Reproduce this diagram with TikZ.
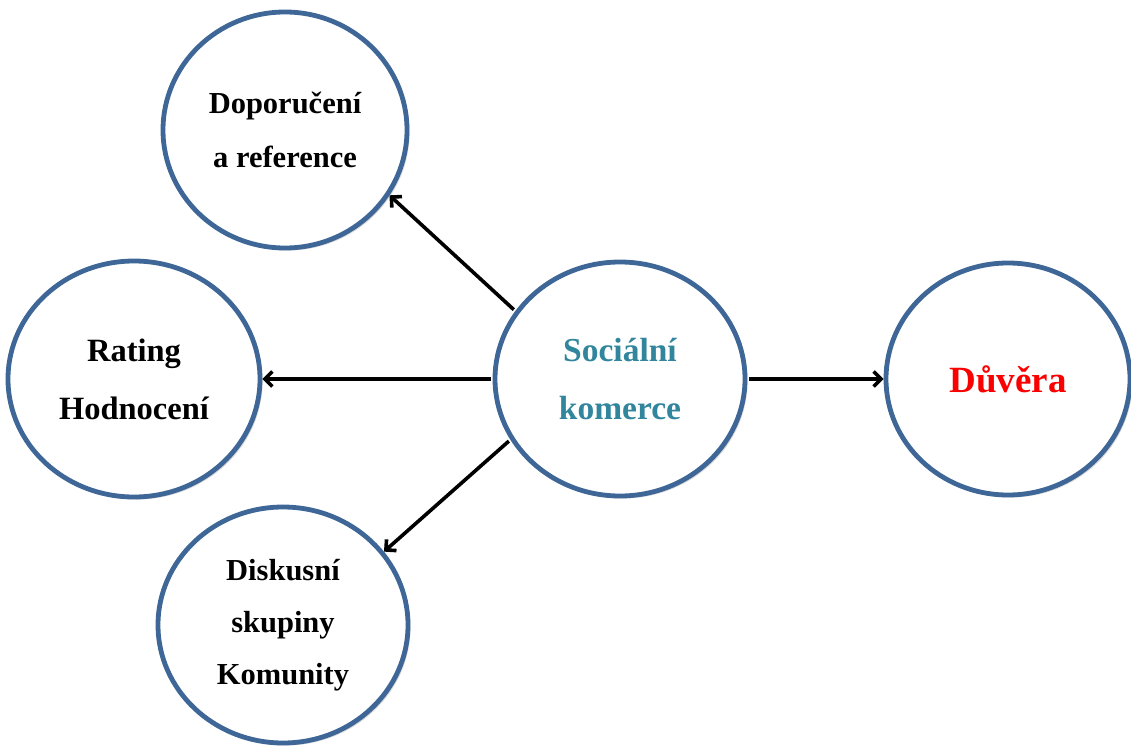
\documentclass[tikz,border=0pt]{standalone}
\usepackage{fontspec}
\setmainfont{Liberation Serif}
\usetikzlibrary{shapes.geometric,arrows.meta,shadows}
\definecolor{ringblue}{RGB}{62,102,150}
\definecolor{tealtext}{RGB}{49,133,156}
\definecolor{trustred}{RGB}{250,0,0}
\tikzset{
  ring/.style={ellipse, draw=ringblue, line width=4.8pt, fill=white,
    inner sep=0pt, align=center,
    drop shadow={shadow xshift=2.5pt, shadow yshift=-2.5pt, opacity=0.22, fill=black!70}},
  link/.style={line width=3.6pt, shorten <=2pt,
    -{Straight Barb[length=7.5pt,width=15pt]}},
  txt/.style 2 args={font=\fontsize{#1}{#2}\selectfont\bfseries},
}
\begin{document}
\begin{tikzpicture}[x=1pt,y=-1pt]
  \useasboundingbox (0,0) rectangle (1131,746);
  % circles
  \node[ring, minimum width=244pt, minimum height=236pt,
        txt={30.5}{54}] (ref) at (285,130) {Doporučení\\a reference};
  \node[ring, minimum width=252pt, minimum height=236pt,
        txt={32.5}{58}] (rat) at (134,379) {Rating\\Hodnocení};
  \node[ring, minimum width=250pt, minimum height=234pt,
        txt={33.5}{58}, text=tealtext] (soc) at (620,379) {Sociální\\komerce};
  \node[ring, minimum width=244pt, minimum height=232pt,
        txt={37}{40}, text=trustred] (duv) at (1008,379) {Důvěra};
  \node[ring, minimum width=250pt, minimum height=236pt,
        txt={30.5}{52}] (dis) at (283,625) {Diskusní\\skupiny\\Komunity};
  % connectors
  \draw[link] (soc.147) -- (ref.-32);
  \draw[link] (soc.west) -- (rat.east);
  \draw[link] (soc.-151) -- (dis.36);
  \draw[link] (soc.east) -- (duv.west);
\end{tikzpicture}
\end{document}
